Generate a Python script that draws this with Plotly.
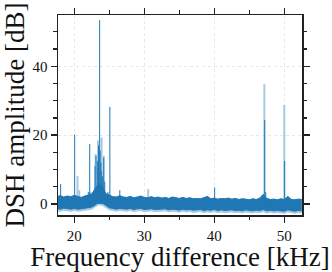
import numpy as np
import plotly.graph_objects as go

# ---- data ----
# noise-floor envelopes, sampled every 0.5 kHz from 17.5 kHz to 52.5 kHz
band_start = 17.5
band_step = 0.5
dark_upper = [
    2.2, 2.4, 2.0, 2.3, 2.1, 2.5, 2.2, 1.9, 2.3, 2.7,
    2.9, 4.5, 6.0, 5.0, 3.0, 2.6, 2.1, 2.0, 2.4, 2.0,
    1.9, 2.2, 1.8, 2.0, 2.3, 1.9, 1.8, 2.1, 1.8, 2.0,
    1.7, 1.9, 1.6, 2.0, 1.7, 1.6, 1.9, 1.6, 1.8, 1.5,
    1.6, 1.5, 1.8, 2.2, 1.5, 1.7, 1.4, 1.6, 1.5, 1.7,
    1.4, 1.6, 1.3, 1.5, 1.4, 1.2, 1.5, 1.3, 1.7, 2.8,
    1.6, 1.3, 1.4, 1.2, 1.5, 1.3, 2.2, 1.3, 1.2, 1.4,
    1.3,
]
dark_lower = [
    -1.3, -1.5, -1.2, -1.4, -1.5, -1.3, -1.5, -1.4, -1.2, -1.1,
    -0.9, -0.3, 0.6, 0.3, -0.5, -1.1, -1.3, -1.5, -1.3, -1.4,
    -1.5, -1.3, -1.6, -1.4, -1.3, -1.6, -1.5, -1.4, -1.6, -1.5,
    -1.6, -1.4, -1.7, -1.5, -1.6, -1.8, -1.5, -1.7, -1.6, -1.8,
    -1.7, -1.6, -1.9, -1.7, -1.8, -1.6, -1.9, -1.7, -1.9, -1.8,
    -1.7, -1.9, -1.8, -2.0, -1.7, -1.9, -2.0, -1.8, -1.9, -1.6,
    -2.0, -1.8, -2.0, -1.9, -2.0, -2.1, -1.7, -2.0, -2.1, -1.9,
    -2.0,
]
light_lower = [
    -2.0, -2.1, -1.8, -2.0, -2.1, -1.9, -2.1, -2.0, -1.8, -1.7,
    -1.5, -0.8, -0.2, -0.4, -1.1, -1.7, -1.9, -2.1, -1.9, -2.0,
    -2.1, -1.9, -2.2, -2.0, -1.9, -2.2, -2.1, -2.0, -2.2, -2.1,
    -2.2, -2.0, -2.3, -2.1, -2.2, -2.4, -2.1, -2.3, -2.2, -2.4,
    -2.3, -2.2, -2.5, -2.3, -2.4, -2.2, -2.5, -2.3, -2.5, -2.4,
    -2.3, -2.5, -2.4, -2.6, -2.3, -2.5, -2.6, -2.4, -2.5, -2.2,
    -2.6, -2.4, -2.6, -2.5, -2.6, -2.7, -2.3, -2.6, -2.7, -2.5,
    -2.6,
]

# spectral lines (kHz, dB)
dark_peak_freq = [18.05, 20.05, 22.0, 22.2, 22.95, 23.1, 23.3, 23.45, 23.62,
                  23.7, 23.8, 23.9, 24.05, 24.2, 24.35, 24.8, 25.08, 26.5,
                  40.05, 47.2, 47.35, 50.05]
dark_peak_amp = [5.8, 20.2, 3.5, 17.4, 11.0, 14.0, 12.5, 17.0, 53.4,
                 15.5, 12.0, 9.5, 8.0, 13.5, 6.5, 3.5, 28.2, 4.0,
                 4.8, 24.4, 3.5, 12.5]

light_peak_freq = [20.45, 20.7, 22.3, 23.05, 23.4, 23.5, 23.9, 24.2, 30.55, 47.15, 50.0]
light_peak_amp = [8.1, 4.0, 3.5, 14.5, 18.5, 17.0, 19.3, 14.0, 4.3, 34.8, 28.8]

x_title = "Frequency difference [kHz]"
y_title = "DSH amplitude [dB]"

DARK = "#1f77b4"
LIGHT = "#a5c9e1"


def segments(freqs, amps):
    xs, ys = [], []
    for f, a in zip(freqs, amps):
        xs += [f, f, None]
        ys += [0, a, None]
    return xs, ys


band_x = band_start + band_step * np.arange(len(dark_upper))

fig = go.Figure()
# light band
fig.add_trace(go.Scatter(x=band_x, y=light_lower, mode="lines",
                         line=dict(color=LIGHT, width=1), hoverinfo="skip"))
fig.add_trace(go.Scatter(x=band_x, y=dark_upper, mode="lines", fill="tonexty",
                         fillcolor=LIGHT, line=dict(color=LIGHT, width=1),
                         hoverinfo="skip"))
lx, ly = segments(light_peak_freq, light_peak_amp)
fig.add_trace(go.Scatter(x=lx, y=ly, mode="lines",
                         line=dict(color=LIGHT, width=2), hoverinfo="skip"))
# dark band
fig.add_trace(go.Scatter(x=band_x, y=dark_lower, mode="lines",
                         line=dict(color=DARK, width=1), hoverinfo="skip"))
fig.add_trace(go.Scatter(x=band_x, y=dark_upper, mode="lines", fill="tonexty",
                         fillcolor=DARK, line=dict(color=DARK, width=1),
                         hoverinfo="skip"))
dx, dy = segments(dark_peak_freq, dark_peak_amp)
fig.add_trace(go.Scatter(x=dx, y=dy, mode="lines",
                         line=dict(color=DARK, width=1), hoverinfo="skip"))

FONT = "Liberation Serif"
axis_common = dict(
    automargin=False,
    showline=True, linecolor="#222222", linewidth=1.5, mirror="ticks",
    ticks="outside", ticklen=6, tickwidth=1.4, tickcolor="#222222",
    showgrid=True, gridcolor="#e2e2e2", gridwidth=0.8, griddash="dot",
    zeroline=False,
    tickfont=dict(family=FONT, size=15, color="#111111"),
)

fig.update_layout(
    width=332, height=272,
    margin=dict(l=58, r=30, t=15, b=57, autoexpand=False),
    paper_bgcolor="white", plot_bgcolor="white",
    showlegend=False,
    font=dict(family=FONT, color="#111111"),
    xaxis=dict(range=[17.67, 52.53], tick0=0, dtick=10,
               minor=dict(dtick=5, ticks="outside", ticklen=3.5, tickwidth=1.2,
                          tickcolor="#222222", showgrid=False),
               title=dict(text=x_title, font=dict(family=FONT, size=27), standoff=5),
               **axis_common),
    yaxis=dict(range=[-3.2, 54.9], tick0=0, dtick=20,
               minor=dict(dtick=5, ticks="outside", ticklen=3.5, tickwidth=1.2,
                          tickcolor="#222222", showgrid=False),
               title=dict(text=y_title, font=dict(family=FONT, size=27), standoff=4),
               **axis_common),
)

fig.write_html("out.html",
               config={"displayModeBar": False, "staticPlot": True},
               post_script="document.body.style.margin='0';"
                           "document.body.style.overflow='hidden';")
